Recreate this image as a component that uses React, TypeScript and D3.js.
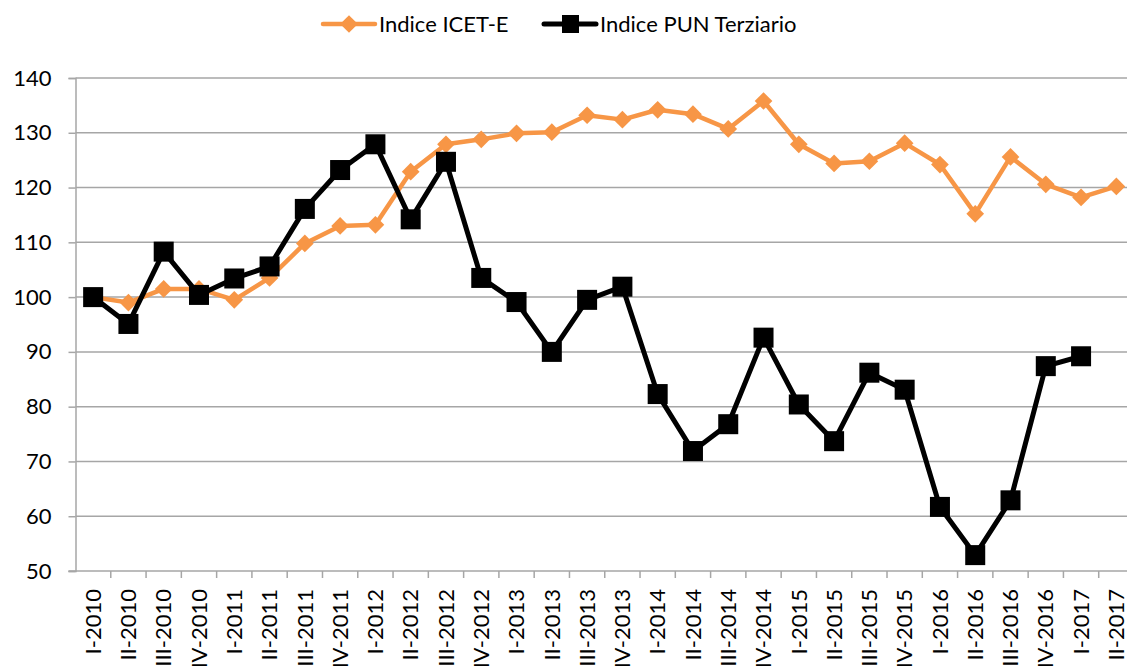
import React, { useEffect, useRef } from 'react';
import * as d3 from 'd3';

const quarters = [
  'I-2010', 'II-2010', 'III-2010', 'IV-2010',
  'I-2011', 'II-2011', 'III-2011', 'IV-2011',
  'I-2012', 'II-2012', 'III-2012', 'IV-2012',
  'I-2013', 'II-2013', 'III-2013', 'IV-2013',
  'I-2014', 'II-2014', 'III-2014', 'IV-2014',
  'I-2015', 'II-2015', 'III-2015', 'IV-2015',
  'I-2016', 'II-2016', 'III-2016', 'IV-2016',
  'I-2017', 'II-2017'
];

const icetValues = [
  100, 99, 101.5, 101.5, 99.5, 103.5, 109.8, 113, 113.2, 122.9,
  127.9, 128.8, 129.9, 130.1, 133.2, 132.4, 134.2, 133.4, 130.7, 135.8,
  127.9, 124.4, 124.8, 128.1, 124.2, 115.2, 125.6, 120.6, 118.2, 120.2
];

const punValues: (number | null)[] = [
  100, 95.1, 108.3, 100.4, 103.4, 105.6, 116.1, 123.2, 127.9, 114.2,
  124.7, 103.5, 99.1, 90, 99.5, 101.9, 82.3, 71.9, 76.8, 92.6,
  80.4, 73.7, 86.2, 83.1, 61.7, 52.9, 62.9, 87.4, 89.2, null
];

const yTicks = [50, 60, 70, 80, 90, 100, 110, 120, 130, 140];

const ORANGE = '#F79646';
const BLACK = '#000000';
const GRID = '#a6a6a6';
const FONT = 'Lato, "Open Sans", sans-serif';

export default function App() {
  const svgRef = useRef<SVGSVGElement>(null);

  useEffect(() => {
    const svg = d3.select(svgRef.current);
    svg.selectAll('*').remove();

    const left = 75.5;
    const right = 1134;
    const top = 78;
    const bottom = 571;

    const x = d3.scaleBand().domain(quarters).range([left, right]);
    const y = d3.scaleLinear().domain([50, 140]).range([bottom, top]);
    const cx = (q: string) => (x(q) as number) + x.bandwidth() / 2;

    // gridlines
    svg.append('g')
      .selectAll('line')
      .data(yTicks.filter(t => t !== 50))
      .join('line')
      .attr('x1', left).attr('x2', 1127)
      .attr('y1', d => y(d)).attr('y2', d => y(d))
      .attr('stroke', GRID).attr('stroke-width', 1.5);

    // y axis
    const yAxis = svg.append('g')
      .attr('transform', `translate(${left},0)`)
      .call(d3.axisLeft(y).tickValues(yTicks).tickSize(7).tickPadding(17));
    yAxis.select('.domain').attr('stroke', GRID).attr('stroke-width', 1.5);
    yAxis.selectAll('line').attr('stroke', GRID).attr('stroke-width', 1.5);
    yAxis.selectAll('text')
      .attr('font-family', FONT).attr('font-size', 22).attr('fill', '#000');

    // x axis
    const xAxisG = svg.append('g');
    xAxisG.append('line')
      .attr('x1', left - 7).attr('x2', 1127)
      .attr('y1', bottom).attr('y2', bottom)
      .attr('stroke', GRID).attr('stroke-width', 1.5);
    xAxisG.selectAll('.tick')
      .data(quarters.slice(1))
      .join('line')
      .attr('x1', d => x(d) as number).attr('x2', d => x(d) as number)
      .attr('y1', bottom).attr('y2', bottom + 7)
      .attr('stroke', GRID).attr('stroke-width', 1.5);
    xAxisG.selectAll('text')
      .data(quarters)
      .join('text')
      .attr('transform', d => `translate(${cx(d)},${bottom + 18}) rotate(-90)`)
      .attr('text-anchor', 'end')
      .attr('dy', '0.35em')
      .attr('font-family', FONT).attr('font-size', 22).attr('fill', '#000')
      .text(d => d);

    // ICET-E line
    const icetData = quarters.map((q, i) => ({ q, v: icetValues[i] }));
    const line = d3.line<{ q: string; v: number | null }>()
      .defined(d => d.v !== null)
      .x(d => cx(d.q))
      .y(d => y(d.v as number));

    svg.append('path')
      .datum(icetData)
      .attr('d', line)
      .attr('fill', 'none')
      .attr('stroke', ORANGE)
      .attr('stroke-width', 4.5)
      .attr('stroke-linejoin', 'round');

    const diamond = d3.symbol().type(d3.symbolDiamond2).size(200);
    svg.append('g')
      .selectAll('path')
      .data(icetData)
      .join('path')
      .attr('d', diamond)
      .attr('transform', d => `translate(${cx(d.q)},${y(d.v)})`)
      .attr('fill', ORANGE);

    // PUN line
    const punData = quarters.map((q, i) => ({ q, v: punValues[i] }));
    svg.append('path')
      .datum(punData)
      .attr('d', line)
      .attr('fill', 'none')
      .attr('stroke', BLACK)
      .attr('stroke-width', 5)
      .attr('stroke-linejoin', 'round');

    svg.append('g')
      .selectAll('rect')
      .data(punData.filter(d => d.v !== null))
      .join('rect')
      .attr('x', d => cx(d.q) - 10)
      .attr('y', d => y(d.v as number) - 10)
      .attr('width', 20).attr('height', 20)
      .attr('fill', BLACK);

    // legend
    const legendItems = [
      { label: 'Indice ICET-E', color: ORANGE, x: 323, marker: 'diamond' },
      { label: 'Indice PUN Terziario', color: BLACK, x: 544, marker: 'square' }
    ];
    const ly = 24;
    legendItems.forEach(item => {
      const g = svg.append('g');
      g.append('line')
        .attr('x1', item.x).attr('x2', item.x + 52)
        .attr('y1', ly).attr('y2', ly)
        .attr('stroke', item.color)
        .attr('stroke-width', item.marker === 'diamond' ? 4.5 : 5)
        .attr('stroke-linecap', 'round');
      if (item.marker === 'diamond') {
        g.append('path')
          .attr('d', diamond)
          .attr('transform', `translate(${item.x + 26},${ly})`)
          .attr('fill', item.color);
      } else {
        g.append('rect')
          .attr('x', item.x + 18).attr('y', ly - 9)
          .attr('width', 17).attr('height', 18)
          .attr('fill', item.color);
      }
      g.append('text')
        .attr('x', item.x + 56).attr('y', ly)
        .attr('dy', '0.35em')
        .attr('font-family', FONT).attr('font-size', 22).attr('fill', '#000')
        .text(item.label);
    });
  }, []);

  return (
    <svg
      ref={svgRef}
      width={1127}
      height={666}
      style={{ position: 'absolute', left: 0, top: 0, background: '#fff' }}
    />
  );
}
